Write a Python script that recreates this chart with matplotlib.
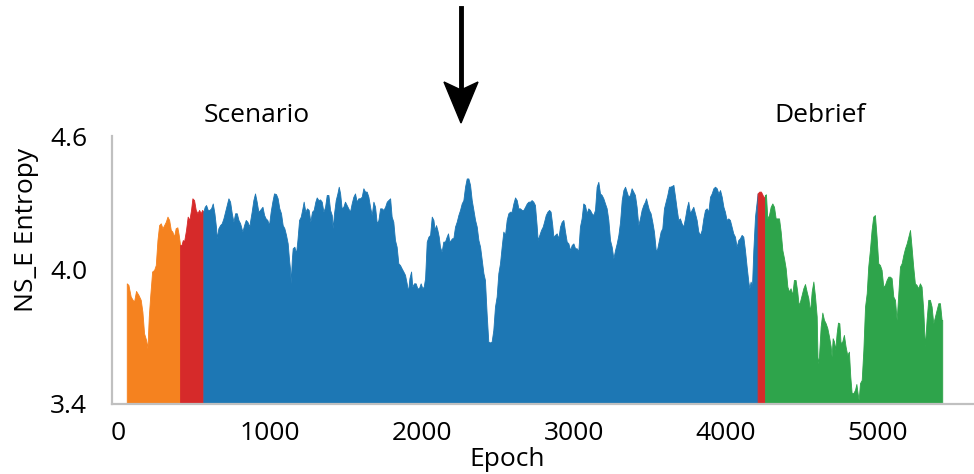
import matplotlib
import matplotlib.pyplot as plt
from matplotlib.patches import Polygon
from matplotlib.lines import Line2D

plt.switch_backend('agg')
plt.rcParams['font.family'] = ['Open Sans', 'DejaVu Sans']

# phase 1 (orange): warm-up
orange_epoch = [57, 68, 83, 96, 105, 118, 134, 149, 160, 171, 184, 193, 202, 211, 224, 237, 248,
                259, 270, 281, 292, 303, 314, 325, 336, 347, 357, 368, 379, 390, 399, 408]
orange_val = [3.940, 3.933, 3.881, 3.866, 3.858, 3.906, 3.888, 3.866, 3.813, 3.716, 3.687, 3.649,
              3.791, 3.881, 3.993, 4.000, 4.022, 4.134, 4.201, 4.209, 4.187, 4.201, 4.216, 4.239,
              4.224, 4.179, 4.172, 4.149, 4.187, 4.191, 4.157, 4.112]

# phase 2 (red): transition
red1_epoch = [408, 417, 426, 434, 447, 458, 469, 480, 489, 500, 511, 522, 533, 544, 553, 561]
red1_val = [4.112, 4.112, 4.134, 4.127, 4.179, 4.239, 4.224, 4.269, 4.321, 4.313, 4.269, 4.254,
            4.269, 4.254, 4.269, 4.261]

# phase 3 (blue): scenario
blue_epoch = [561, 570, 579, 590, 601, 612, 623, 634, 645, 649, 660, 671, 682, 693, 704, 715, 726,
              737, 748, 759, 770, 781, 792, 803, 818, 829, 840, 851, 864,
              868, 879, 890, 901, 912, 923, 934, 950, 961, 971, 982, 993, 1004, 1015, 1026, 1039,
              1050, 1061, 1072, 1083, 1094, 1105, 1116, 1125, 1132, 1136, 1143, 1149, 1160, 1171,
              1180, 1191, 1202, 1213, 1221, 1232, 1243, 1254, 1265, 1276, 1287, 1298, 1307, 1318,
              1329, 1340, 1351, 1362, 1373, 1384, 1395, 1406, 1412, 1421, 1432, 1443, 1452, 1461,
              1471, 1482, 1493, 1504, 1515, 1526, 1537, 1548, 1559, 1570, 1581, 1592, 1603, 1614,
              1625, 1636, 1647, 1658, 1669, 1680, 1691, 1702, 1713, 1724, 1735, 1746, 1757, 1768,
              1778,
              1790, 1800, 1811, 1822, 1833, 1844, 1855, 1866, 1877, 1888, 1899, 1908, 1917, 1928,
              1936, 1947, 1958, 1969, 1980, 1991, 2002, 2011, 2020, 2031, 2042, 2053, 2064, 2075,
              2083, 2092, 2101, 2110, 2118, 2129, 2140, 2151, 2162, 2171, 2180, 2189, 2197, 2206,
              2217, 2228, 2239, 2250, 2261, 2272, 2283, 2294, 2305, 2316, 2327, 2338, 2349, 2360,
              2371, 2382, 2393, 2404, 2414, 2425, 2436, 2447, 2458, 2469, 2480, 2491, 2502, 2513,
              2524, 2535, 2546, 2557, 2568, 2579, 2590, 2601, 2612, 2623, 2634, 2645, 2656, 2667,
              2678, 2689, 2700,
              2711, 2721, 2732, 2743, 2754, 2761, 2772, 2783, 2794, 2803, 2814, 2825, 2836, 2846,
              2857, 2864, 2875, 2886, 2897, 2908, 2919, 2930, 2941, 2952, 2963, 2974, 2985, 2996,
              3007, 3018, 3028, 3039, 3050, 3061, 3072, 3083, 3094, 3105, 3116, 3127, 3138, 3149,
              3160, 3171, 3182, 3193, 3204, 3215, 3226, 3237, 3248, 3259, 3270, 3281, 3292, 3303,
              3314, 3325, 3336, 3346, 3357, 3368, 3379, 3390, 3401, 3412, 3423, 3434, 3445, 3456,
              3467, 3474, 3482, 3493, 3504, 3515, 3526, 3539, 3548, 3559, 3570, 3581, 3592, 3603,
              3614, 3625,
              3632, 3643, 3654, 3665, 3675, 3686, 3697, 3708, 3719, 3730, 3741, 3752, 3763, 3774,
              3785, 3796, 3807, 3818, 3829, 3840, 3851, 3862, 3873, 3884, 3895, 3906, 3917, 3928,
              3939, 3950, 3961, 3972, 3983, 3993, 4004, 4015, 4026, 4037, 4048, 4059, 4070, 4081,
              4092, 4103, 4114, 4125, 4136, 4147, 4154, 4162, 4171, 4180, 4191, 4202, 4208]
blue_val = [4.261, 4.283, 4.291, 4.269, 4.269, 4.276, 4.298, 4.254, 4.187, 4.142, 4.187, 4.201,
            4.209, 4.231, 4.261, 4.291, 4.321, 4.306, 4.254, 4.216, 4.254, 4.254, 4.224, 4.209,
            4.172, 4.201, 4.224, 4.216, 4.194,
            4.216, 4.261, 4.313, 4.343, 4.306, 4.261, 4.269, 4.283, 4.246, 4.231, 4.224, 4.201,
            4.261, 4.306, 4.343, 4.340, 4.321, 4.276, 4.254, 4.201, 4.187, 4.157, 4.119, 4.045,
            4.000, 3.940, 4.045, 4.097, 4.104, 4.075, 4.134, 4.224, 4.239, 4.276, 4.306, 4.261,
            4.276, 4.269, 4.216, 4.261, 4.269, 4.306, 4.325, 4.313, 4.316, 4.306, 4.261, 4.283,
            4.336, 4.336, 4.269, 4.246, 4.187, 4.254, 4.313, 4.343, 4.373, 4.343, 4.276, 4.283,
            4.306, 4.291, 4.276, 4.261, 4.298, 4.328, 4.343, 4.306, 4.321, 4.321, 4.328, 4.366,
            4.351, 4.351, 4.328, 4.283, 4.246, 4.306, 4.283, 4.209, 4.224, 4.276, 4.276, 4.269,
            4.283, 4.306, 4.313,
            4.321, 4.239, 4.216, 4.134, 4.104, 4.030, 4.022, 4.007, 3.993, 3.978, 3.940, 3.903,
            3.963, 3.993, 3.925, 3.940, 3.940, 3.918, 3.918, 3.940, 3.918, 3.925, 3.963, 4.127,
            4.149, 4.157, 4.239, 4.224, 4.179, 4.201, 4.179, 4.149, 4.104, 4.082, 4.127, 4.127,
            4.149, 4.164, 4.127, 4.134, 4.142, 4.142, 4.194, 4.216, 4.246, 4.269, 4.298, 4.313,
            4.373, 4.410, 4.410, 4.381, 4.313, 4.269, 4.224, 4.194, 4.134, 4.104, 4.045, 3.985,
            3.955, 3.806, 3.679, 3.675, 3.679, 3.731, 3.836, 3.881, 3.985, 4.030, 4.104, 4.172,
            4.157, 4.224, 4.254, 4.261, 4.261, 4.298, 4.325, 4.313, 4.276, 4.276, 4.269, 4.269,
            4.283, 4.298, 4.306,
            4.306, 4.313, 4.306, 4.291, 4.201, 4.134, 4.157, 4.179, 4.194, 4.216, 4.246, 4.261,
            4.269, 4.261, 4.201, 4.149, 4.157, 4.164, 4.142, 4.194, 4.216, 4.224, 4.172, 4.127,
            4.119, 4.089, 4.112, 4.119, 4.097, 4.097, 4.082, 4.194, 4.231, 4.298, 4.291, 4.254,
            4.276, 4.269, 4.254, 4.246, 4.269, 4.373, 4.395, 4.343, 4.336, 4.321, 4.298, 4.276,
            4.224, 4.134, 4.104, 4.052, 4.089, 4.119, 4.157, 4.216, 4.313, 4.358, 4.373, 4.351,
            4.328, 4.336, 4.366, 4.351, 4.336, 4.283, 4.201, 4.231, 4.269, 4.291, 4.306, 4.321,
            4.298, 4.269, 4.254, 4.216, 4.172, 4.082, 4.097, 4.134, 4.172, 4.187, 4.276, 4.306,
            4.336, 4.373,
            4.373, 4.376, 4.381, 4.328, 4.276, 4.224, 4.231, 4.209, 4.194, 4.231, 4.276, 4.306,
            4.254, 4.269, 4.283, 4.254, 4.224, 4.172, 4.157, 4.179, 4.231, 4.269, 4.276, 4.261,
            4.328, 4.343, 4.366, 4.373, 4.366, 4.343, 4.358, 4.328, 4.283, 4.261, 4.224, 4.231,
            4.224, 4.194, 4.164, 4.149, 4.104, 4.134, 4.142, 4.157, 4.149, 4.089, 4.015, 3.948,
            3.918, 3.948, 3.925, 4.089, 4.239, 4.306, 4.343]

# phase 4 (red): transition
red2_epoch = [4208, 4219, 4230, 4241, 4250, 4257]
red2_val = [4.343, 4.351, 4.351, 4.336, 4.321, 4.336]

# phase 5 (green): debrief
green_epoch = [4257, 4263, 4272, 4283, 4294, 4305, 4316, 4327, 4338, 4349, 4360, 4371, 4382, 4393,
               4404, 4415, 4425, 4436, 4447, 4458, 4469, 4478, 4487, 4498, 4509, 4520, 4531, 4542,
               4553, 4564, 4575, 4586, 4597, 4603, 4612, 4623, 4634, 4645, 4656, 4667, 4678, 4689,
               4695, 4702, 4711, 4719, 4728, 4737, 4746, 4754, 4765, 4776, 4787, 4798, 4809, 4818,
               4827, 4838, 4849, 4858, 4866, 4873, 4882, 4893, 4904, 4915, 4926, 4936, 4947, 4958,
               4969, 4980, 4991, 5002, 5013, 5024, 5035, 5046, 5057, 5068, 5079, 5090, 5101, 5112,
               5123, 5134, 5145, 5156, 5167, 5178, 5189, 5200, 5211, 5221, 5232, 5243, 5254, 5265,
               5276, 5287, 5298, 5309, 5320, 5331, 5342, 5353, 5364, 5375, 5386, 5397, 5408, 5419,
               5423]
green_val = [4.336, 4.339, 4.231, 4.246, 4.283, 4.298, 4.283, 4.231, 4.231, 4.231, 4.172, 4.089,
             4.052, 4.007, 3.925, 3.903, 3.918, 3.888, 3.955, 3.955, 3.903, 3.843, 3.858, 3.888,
             3.918, 3.937, 3.903, 3.873,
             3.813, 3.903, 3.948, 3.881, 3.791, 3.582, 3.612, 3.746, 3.809, 3.776, 3.761, 3.739,
             3.702, 3.657, 3.612, 3.694, 3.679, 3.642, 3.716, 3.764, 3.761, 3.672, 3.679, 3.709,
             3.657, 3.619, 3.634, 3.522, 3.448, 3.448, 3.463, 3.489, 3.448, 3.418, 3.493, 3.507,
             3.642, 3.836, 3.896, 4.015, 4.089, 4.179, 4.239, 4.246, 4.149, 4.030, 4.022, 4.000,
             3.925, 3.933, 3.955, 3.970, 3.970, 3.963, 3.881, 3.866, 3.776, 3.896, 4.015, 4.030,
             4.067, 4.097, 4.119, 4.149, 4.179, 4.104, 4.015, 3.940, 3.933, 3.918, 3.940, 3.925,
             3.821, 3.657, 3.776, 3.866, 3.866, 3.836, 3.761, 3.791, 3.821, 3.851, 3.851, 3.776,
             3.776]

phase_colors = ['#f5821f', '#d62a2a', '#1d77b4', '#d62a2a', '#2ea44b']

y_ticks = [3.4, 4.0, 4.6]
y_tick_labels = ['3.4', '4.0', '4.6']
x_ticks = [0, 1000, 2000, 3000, 4000, 5000]

fig = plt.figure(figsize=(9.74, 4.74), dpi=100)
ax = fig.add_axes([0.115, 0.148, 0.885, 0.565])

phases = [(orange_epoch, orange_val), (red1_epoch, red1_val), (blue_epoch, blue_val),
          (red2_epoch, red2_val), (green_epoch, green_val)]
for (ep, val), c in zip(phases, phase_colors):
    ax.fill_between(ep, 3.4, val, color=c, lw=0.6, edgecolor=c)

ax.set_xlim(-40, 5632)
ax.set_ylim(3.4, 4.6)
ax.set_yticks(y_ticks)
ax.set_yticklabels(y_tick_labels)
ax.set_xticks(x_ticks)
ax.tick_params(length=0, labelsize=19)
ax.tick_params('y', pad=18)
ax.tick_params('x', pad=12)

for s in ['top', 'right']:
    ax.spines[s].set_visible(False)
for s in ['left', 'bottom']:
    ax.spines[s].set_color('#c0c0c0')
    ax.spines[s].set_linewidth(1.6)

ax.set_xlabel('Epoch', fontsize=19)
ax.xaxis.set_label_coords(0.458, -0.16)
fig.text(0.027, 0.515, 'NS_E Entropy', fontsize=19, rotation=90, ha='center', va='center')

# phase annotations + arrow (figure pixel coords)
W, H = 974.0, 474.0
fig.text(257 / W, 1 - 115 / H, 'Scenario', fontsize=19, ha='center', va='center')
fig.text(820 / W, 1 - 115 / H, 'Debrief', fontsize=19, ha='center', va='center')

ax_x = 461
fig.lines.append(Line2D([ax_x / W, ax_x / W], [1 - 8 / H, 1 - 92 / H], color='black', lw=3.5,
                        transform=fig.transFigure))
head = [(ax_x / W, 1 - 123 / H), ((ax_x - 17) / W, 1 - 82 / H), (ax_x / W, 1 - 90 / H),
        ((ax_x + 17) / W, 1 - 82 / H)]
fig.patches.append(Polygon(head, closed=True, color='black', transform=fig.transFigure))

plt.savefig('out.png', dpi=100)
